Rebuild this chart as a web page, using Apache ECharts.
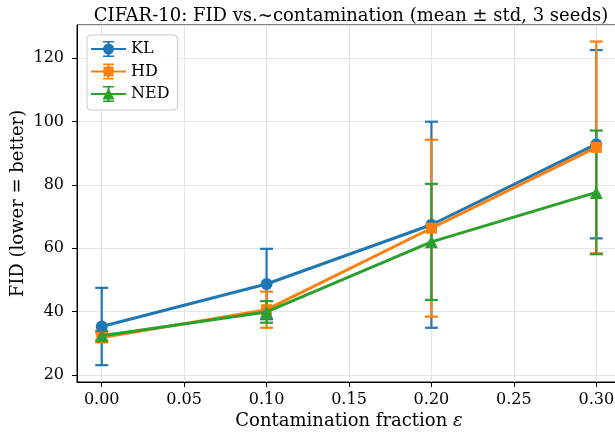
<!DOCTYPE html>
<html>
<head>
<meta charset="utf-8">
<script src="https://cdn.jsdelivr.net/npm/echarts@6/dist/echarts.min.js"></script>
<style>html,body{margin:0;padding:0;background:#fff;}#c{width:615px;height:434px;}</style>
</head>
<body>
<div id="c"></div>
<script>
const xValues = [0.0, 0.1, 0.2, 0.3];
const klMean = [35.3, 48.7, 67.4, 92.8];
const klStd = [12.2, 11.1, 32.5, 29.7];
const hdMean = [31.8, 40.6, 66.3, 91.8];
const hdStd = [1.5, 5.7, 27.9, 33.4];
const nedMean = [32.4, 39.9, 62.0, 77.6];
const nedStd = [1.5, 3.4, 18.3, 19.5];
const seriesNames = ['KL', 'HD', 'NED'];
const colors = ['#1f77b4', '#ff7f0e', '#2ca02c'];
const FONT = 'DejaVu Serif';

const means = [klMean, hdMean, nedMean];
const stds = [klStd, hdStd, nedStd];
const symbols = ['circle', 'rect', 'triangle'];
const symbolSizes = [12, 11, 13];

const markerPaths = [
  'M12,8 A5.5,5.5 0 1,1 23,8 A5.5,5.5 0 1,1 12,8 Z',
  'M12.5,3 L22.5,3 L22.5,13 L12.5,13 Z',
  'M17.5,2 L23.5,13.5 L11.5,13.5 Z'
];
function legendIcon(i) {
  const base = 'M0,7 L35,7 L35,9 L0,9 Z M16.5,0 L18.5,0 L18.5,16 L16.5,16 Z M12,0 L23,0 L23,1.6 L12,1.6 Z M12,14.4 L23,14.4 L23,16 L12,16 Z ';
  return 'path://' + base + markerPaths[i];
}

const series = [];
for (let i = 0; i < 3; i++) {
  const errData = xValues.map((x, k) => [x, means[i][k] - stds[i][k], means[i][k] + stds[i][k]]);
  series.push({
    name: seriesNames[i],
    type: 'custom',
    z: 1,
    silent: true,
    data: errData,
    encode: { x: 0, y: [1, 2] },
    renderItem: function (params, api) {
      const x = api.value(0);
      const lo = api.coord([x, api.value(1)]);
      const hi = api.coord([x, api.value(2)]);
      const cw = 6.5;
      const st = { stroke: colors[i], lineWidth: 2.2 };
      return {
        type: 'group',
        children: [
          { type: 'line', shape: { x1: lo[0], y1: lo[1], x2: hi[0], y2: hi[1] }, style: st },
          { type: 'line', shape: { x1: lo[0] - cw, y1: lo[1], x2: lo[0] + cw, y2: lo[1] }, style: st },
          { type: 'line', shape: { x1: hi[0] - cw, y1: hi[1], x2: hi[0] + cw, y2: hi[1] }, style: st }
        ]
      };
    }
  });
}
for (let i = 0; i < 3; i++) {
  series.push({
    name: seriesNames[i],
    type: 'line',
    z: 3 + i,
    data: xValues.map((x, k) => [x, means[i][k]]),
    symbol: symbols[i],
    symbolSize: symbolSizes[i],
    showAllSymbol: true,
    lineStyle: { width: 3, color: colors[i] },
    itemStyle: { color: colors[i] },
    animation: false
  });
}

const chart = echarts.init(document.getElementById('c'), null, { renderer: 'canvas' });
chart.setOption({
  animation: false,
  backgroundColor: '#fff',
  color: colors,
  title: {
    text: 'CIFAR-10: FID vs.~contamination (mean \u00b1 std, 3 seeds)',
    left: 346, top: 2, textAlign: 'center',
    textStyle: { fontFamily: FONT, fontSize: 18, fontWeight: 'normal', color: '#000' }
  },
  legend: {
    left: 87, top: 35, orient: 'vertical',
    itemWidth: 35, itemHeight: 16, itemGap: 6.5,
    padding: [6, 8, 8, 4],
    backgroundColor: 'rgba(255,255,255,0.8)',
    borderColor: '#cccccc', borderWidth: 1, borderRadius: 4,
    textStyle: { fontFamily: FONT, fontSize: 16, color: '#000' },
    data: seriesNames.map((n, i) => ({ name: n, icon: legendIcon(i), itemStyle: { color: colors[i] } }))
  },
  grid: {
    left: 77, top: 25, right: -6, bottom: 52,
    outerBoundsMode: 'none', containLabel: false,
    show: true, borderColor: '#000', borderWidth: 1, backgroundColor: 'transparent'
  },
  xAxis: {
    type: 'value', min: -0.015, max: 0.315, splitNumber: 6,
    name: 'Contamination fraction {i|\u03b5}', nameLocation: 'middle', nameGap: 30, nameMoveOverlap: false,
    nameTextStyle: { fontFamily: FONT, fontSize: 18, color: '#000',
      rich: { i: { fontFamily: FONT, fontSize: 18, fontStyle: 'italic', color: '#000' } } },
    axisLine: { show: true, onZero: false, lineStyle: { color: '#000', width: 1 } },
    axisTick: { show: true, inside: false, length: 5, lineStyle: { color: '#000' } },
    axisLabel: { fontFamily: FONT, fontSize: 16, color: '#000', margin: 10, showMinLabel: false, showMaxLabel: false,
      hideOverlap: false, formatter: v => v.toFixed(2) },
    splitLine: { show: true, lineStyle: { color: '#e5e5e5', width: 1 } }
  },
  yAxis: {
    type: 'value', min: 17.8, max: 130.4, splitNumber: 5,
    name: 'FID (lower = better)', nameLocation: 'middle', nameGap: 50, nameMoveOverlap: false,
    nameTextStyle: { fontFamily: FONT, fontSize: 18, color: '#000' },
    axisLine: { show: true, onZero: false, lineStyle: { color: '#000', width: 1 } },
    axisTick: { show: true, inside: false, length: 5, lineStyle: { color: '#000' } },
    axisLabel: { fontFamily: FONT, fontSize: 16, color: '#000', margin: 13, showMinLabel: false, showMaxLabel: false },
    splitLine: { show: true, lineStyle: { color: '#e5e5e5', width: 1 } }
  },
  series: series
});
</script>
</body>
</html>
